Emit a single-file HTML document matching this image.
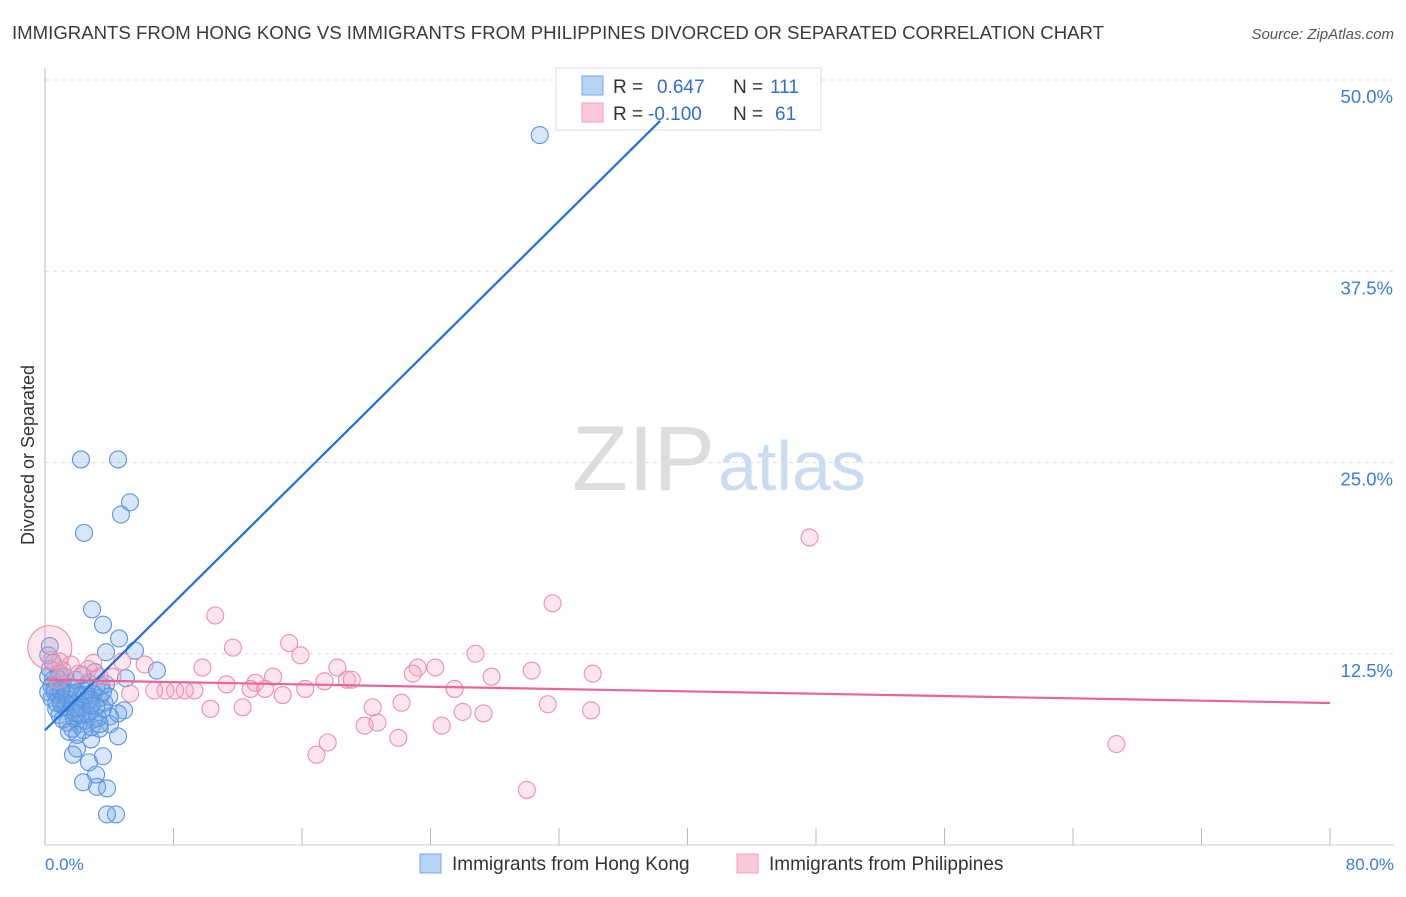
<!DOCTYPE html>
<html><head><meta charset="utf-8"><style>
body{margin:0;background:#fff;font-family:"Liberation Sans",sans-serif;}
svg text{font-family:"Liberation Sans",sans-serif;}
</style></head><body>
<svg width="1406" height="892" viewBox="0 0 1406 892" xmlns="http://www.w3.org/2000/svg">
<text x="12" y="39" font-size="18" textLength="1092" lengthAdjust="spacingAndGlyphs" fill="#3a3a3a">IMMIGRANTS FROM HONG KONG VS IMMIGRANTS FROM PHILIPPINES DIVORCED OR SEPARATED CORRELATION CHART</text>
<text x="1394" y="39" font-size="15" font-style="italic" fill="#555" text-anchor="end">Source: ZipAtlas.com</text>
<text x="715" y="490" font-size="92" font-family="Liberation Serif" fill="#ddd" text-anchor="end">ZIP</text>
<text x="718" y="490" font-size="70" fill="#c9dcf2">atlas</text>
<g id="grid"></g>
<g id="axes"></g>
<g id="pts"></g>
<g id="legend-box">
<rect x="556" y="68" width="265" height="62" fill="#fff" stroke="#ddd"/>
</g>
<g id="lines"></g>
<text transform="translate(34,455) rotate(-90)" font-size="18" fill="#333" text-anchor="middle">Divorced or Separated</text>
<text x="45" y="870" font-size="17" fill="#3b7dd8">0.0%</text>
<text x="1394" y="870" font-size="17" fill="#3b7dd8" text-anchor="end">80.0%</text>
<g>
<rect x="582" y="76" width="21" height="19" fill="#b7d3f5" stroke="#7aaae6"/>
<rect x="582" y="103" width="21" height="19" fill="#fbc9d8" stroke="#f0a0b8"/>
<text x="613" y="93" font-size="19" fill="#333">R =</text>
<text x="657" y="93" font-size="19" fill="#2f6fd0">0.647</text>
<text x="733" y="93" font-size="19" fill="#333">N =</text>
<text x="770" y="93" font-size="19" fill="#2f6fd0">111</text>
<text x="613" y="120" font-size="19" fill="#333">R =</text>
<text x="648" y="120" font-size="19" fill="#2f6fd0">-0.100</text>
<text x="733" y="120" font-size="19" fill="#333">N =</text>
<text x="775" y="120" font-size="19" fill="#2f6fd0">61</text>
</g>
<g>
<rect x="420" y="854" width="21" height="19" fill="#b7d3f5" stroke="#7aaae6"/>
<text x="452" y="870" font-size="19" fill="#333">Immigrants from Hong Kong</text>
<rect x="737" y="854" width="21" height="19" fill="#fbc9d8" stroke="#f0a0b8"/>
<text x="769" y="870" font-size="19" fill="#333">Immigrants from Philippines</text>
</g>
</svg>
<script>
const yTicks=[12.5,25,37.5,50];
const yTickLabels=["12.5%","25.0%","37.5%","50.0%"];
const xTicks=[0,8,16,24,32,40,48,56,64,72,80];
const blueX=[30.8,2.24,4.55,5.29,4.73,2.43,2.93,3.61,4.61,3.80,5.60,6.97,5.04,3.86,4.42,3.86,3.24,3.18,2.37,2.74,3.61,1.99,1.74,2.86,4.55,4.92,4.55,4.05,4.05,3.4,
0.3,0.5,0.6,0.8,1.0,1.2,0.4,0.7,0.9,1.1,1.3,1.5,1.6,1.8,2.0,2.2,2.4,2.6,2.8,3.0,3.2,3.4,3.6,1.4,1.7,2.1,2.5,2.9,3.3,3.7,0.2,0.3,0.5,0.9,1.2,1.9,2.3,2.7,3.1,3.5,0.6,1.0,1.4,1.8,2.2,2.6,3.0,3.4,1.1,1.5,2.0,2.4,0.8,1.6,2.0,2.8,3.2,0.4,1.3,2.3,0.2,0.2,3.8,4.0,1.7,2.5,0.7,1.9,2.9,1.0,3.6];
const blueY=[46.4,25.2,25.2,22.4,21.6,20.4,15.4,14.4,13.5,12.6,12.7,11.4,10.9,3.7,2.0,2.0,3.8,4.6,4.1,5.4,5.8,6.3,5.9,6.9,7.1,8.8,8.6,8.4,7.9,7.6,
11.5,10.8,10.2,9.8,9.4,9.0,9.6,8.9,8.5,10.5,10.0,9.5,8.8,8.3,9.0,9.7,10.1,9.3,8.7,9.9,10.3,9.6,8.9,8.0,7.6,7.9,8.1,7.7,8.3,9.3,12.4,13.0,11.9,11.2,11.0,10.8,11.1,10.6,11.3,10.4,10.0,9.2,9.8,9.2,8.5,8.6,8.2,7.9,8.2,7.4,7.2,7.5,10.9,10.3,10.0,9.5,9.1,10.4,9.3,9.0,10.0,11.0,10.5,9.7,9.9,9.8,9.3,8.6,9.1,10.1,10.0];
const pinkX=[0.3,47.6,31.6,66.7,30.0,10.6,11.7,15.2,15.9,9.8,18.2,23.2,26.8,30.3,34.1,27.8,24.3,22.9,18.8,19.1,14.2,13.1,17.4,16.2,14.8,13.7,12.8,11.3,9.3,8.7,8.1,7.5,6.8,6.2,4.8,4.2,3.4,2.7,1.6,0.9,10.3,12.3,20.4,22.2,25.5,26.0,27.3,31.3,34.0,24.7,19.9,20.7,22.0,17.6,16.9,5.3,2.1,1.1,0.4,0.8,3.0];
const pinkY=[12.9,20.1,15.8,6.6,3.6,15.0,12.9,13.2,12.4,11.6,11.6,11.6,12.5,11.4,11.2,11.0,11.6,11.2,10.8,10.8,11.0,10.6,10.7,10.2,9.8,10.2,10.2,10.5,10.1,10.1,10.1,10.1,10.1,11.8,12.0,11.0,11.0,11.5,11.8,12.0,8.9,9.0,9.0,9.3,10.2,8.7,8.6,9.2,8.8,7.8,7.8,8.0,7.0,6.7,5.9,9.9,11.2,11.4,12.1,10.8,11.9];
const pinkSizes=[22];
const blueTrend=[7.5,1.04];
const pinkTrend=[10.8,-0.019];
const X=v=>45+v*1285/80, Y=v=>845-v*15.3;
const NS="http://www.w3.org/2000/svg";
function mk(t,a,p){const e=document.createElementNS(NS,t);for(const k in a)e.setAttribute(k,a[k]);document.getElementById(p).appendChild(e);return e;}
yTicks.forEach((t,i)=>{
 const l=mk('line',{x1:45,x2:1394,y1:Y(t),y2:Y(t),stroke:'#ddd','stroke-dasharray':'4,4'},'grid');
 
 
 const tx=mk('text',{x:1393,y:Y(t)+23,'font-size':18.5,fill:'#3b7dd8','text-anchor':'end'},'grid');
 tx.textContent=yTickLabels[i];
 
 
});
const ax=mk('line',{x1:45,x2:45,y1:68,y2:845,stroke:'#bbb'},'axes');


const bx=mk('line',{x1:45,x2:1394,y1:845,y2:845,stroke:'#ccc'},'axes');


xTicks.forEach(t=>{
 const l=mk('line',{x1:X(t),x2:X(t),y1:828,y2:845,stroke:'#bbb'},'axes');
 
 
});
blueX.forEach((v,i)=>{
 const c=mk('circle',{cx:X(v),cy:Y(blueY[i]),r:8.5,fill:'rgba(110,165,230,0.28)',stroke:'#5b95de','stroke-width':1.1},'pts');
 
 
});
pinkX.forEach((v,i)=>{
 const c=mk('circle',{cx:X(v),cy:Y(pinkY[i]),r:pinkSizes[i]||8.5,fill:'rgba(245,160,190,0.28)',stroke:'#ec90ae','stroke-width':1.1},'pts');
 
 
});
const bEnd=38.3;
const bl=mk('line',{x1:X(0),y1:Y(blueTrend[0]),x2:X(bEnd),y2:Y(blueTrend[0]+blueTrend[1]*bEnd),stroke:'#2070d8','stroke-width':2.2},'lines');


const pl=mk('line',{x1:X(0),y1:Y(pinkTrend[0]),x2:X(80),y2:Y(pinkTrend[0]+pinkTrend[1]*80),stroke:'#e8659a','stroke-width':2.2},'lines');


</script>
</body></html>
